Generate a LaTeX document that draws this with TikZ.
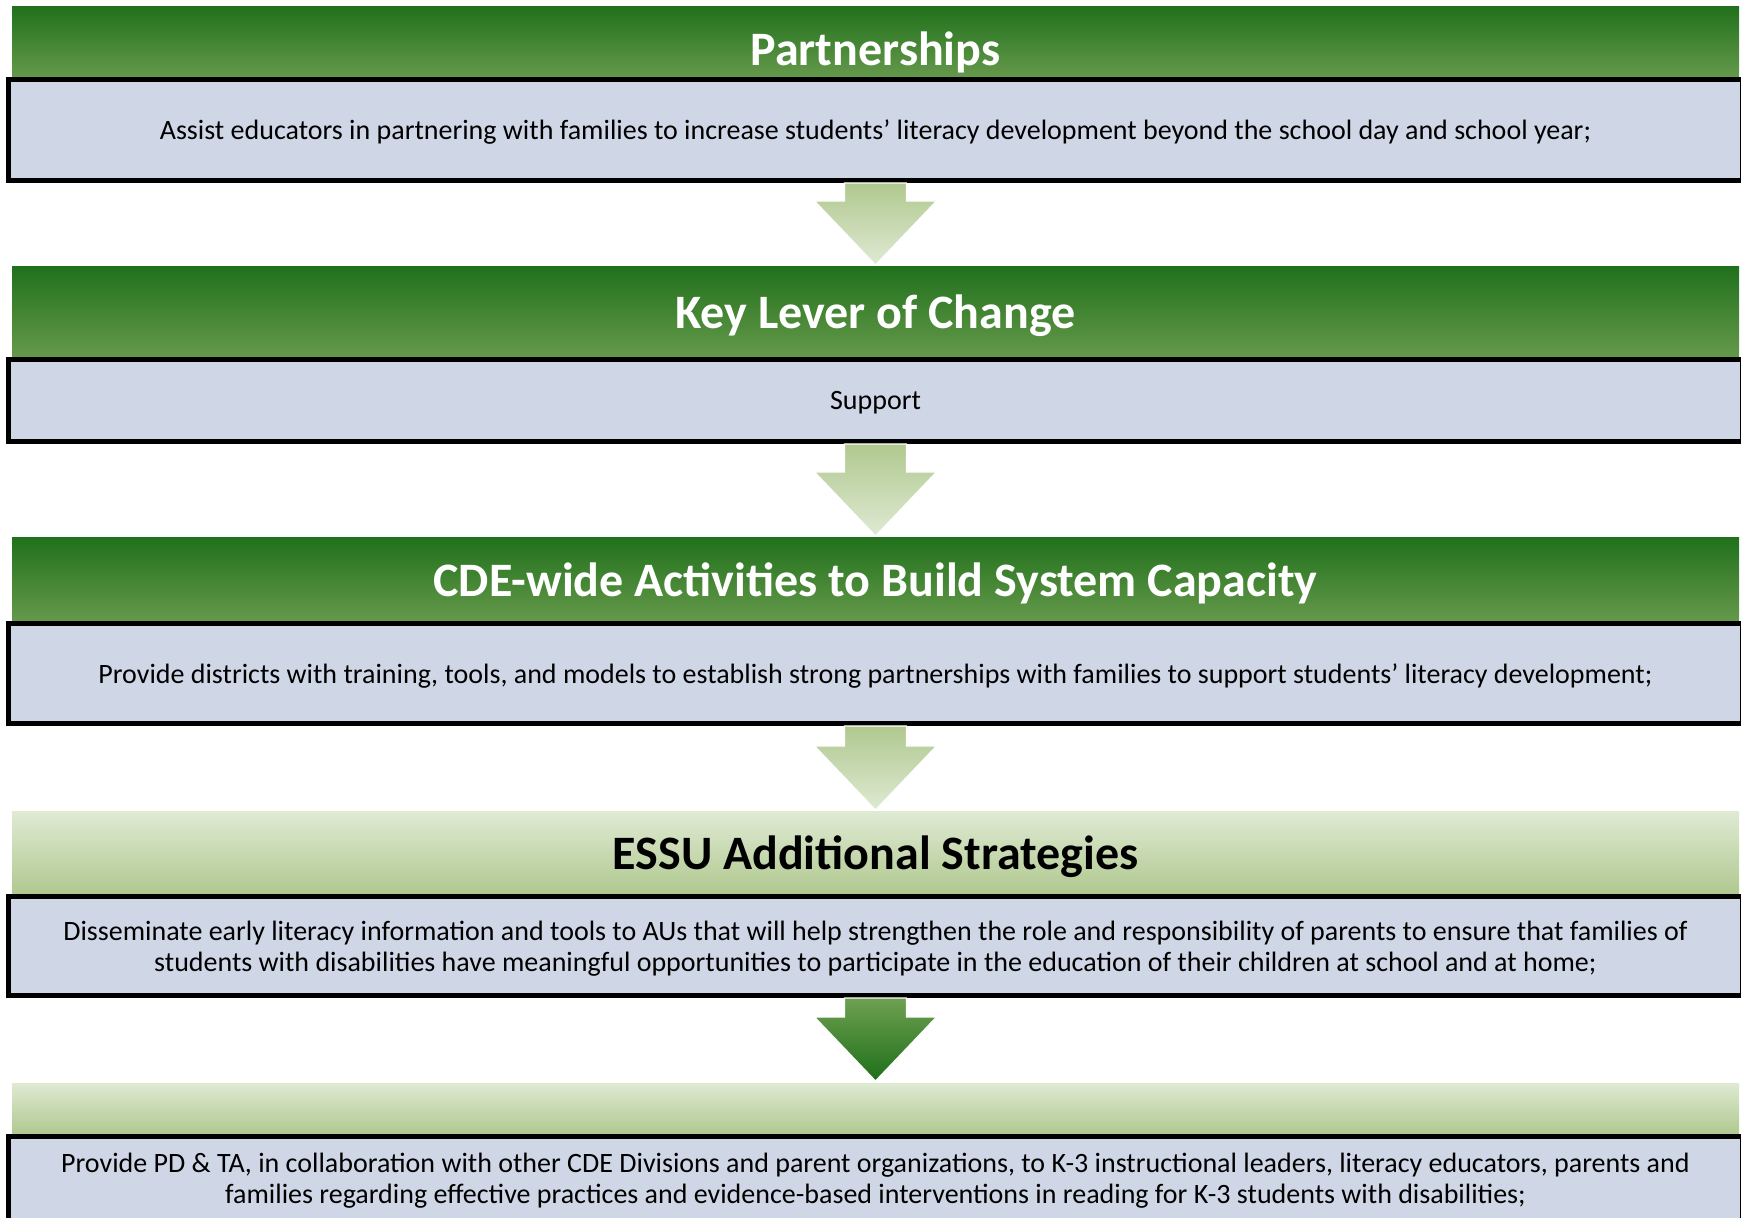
\documentclass[tikz,border=0pt]{standalone}
\usepackage{fontspec}
\setmainfont{Carlito}
\usepackage{tikz}
\usetikzlibrary{positioning,calc}

\definecolor{hdrtop}{HTML}{21711C}
\definecolor{hdrbot}{HTML}{65994B}
\definecolor{lighttop}{HTML}{DFEAD3}
\definecolor{lightbot}{HTML}{B0C88F}
\definecolor{boxfill}{HTML}{CFD7E7}
\definecolor{darktip}{HTML}{1E6F1A}
\definecolor{darktop}{HTML}{6EA050}

% block arrow from a text box down to the next header
\newcommand{\flowarrow}[4]{%
  \shade[top color=#3,bottom color=#4,draw=white,line width=0.6pt]
    ($(#1.south)+(-15.5pt,0)$) -- ($(#2.north)+(-15.5pt,33pt)$)
    -- ($(#2.north)+(-30.5pt,33pt)$) -- ($(#2.north)+(0,1pt)$)
    -- ($(#2.north)+(30.5pt,33pt)$) -- ($(#2.north)+(15.5pt,33pt)$)
    -- ($(#1.south)+(15.5pt,0)$) -- cycle;}

\begin{document}
\begin{tikzpicture}[x=1pt,y=1pt,
    hdr/.style={minimum width=863.5pt,inner sep=0pt,outer sep=0pt,text depth=0pt,top color=hdrtop,bottom color=hdrbot,text=white,font=\fontsize{24}{28}\selectfont\bfseries},
    hdrlight/.style={hdr,top color=lighttop,bottom color=lightbot,text=black},
    txtbox/.style={draw,line width=2.5pt,fill=boxfill,minimum width=867pt,align=center,inner sep=0pt,text depth=0pt,font=\fontsize{14}{15.5}\selectfont}]
  \useasboundingbox (0,0) rectangle (870.5,-609);
  \node[hdr,minimum height=35pt,text height=23.5pt,anchor=north west] (h1) at (6,-3.5) {Partnerships};
  \node[txtbox,minimum height=50.5pt,below=0pt of h1] (b1) {Assist educators in partnering with families to increase students’ literacy development beyond the school day and school year;};
  \node[hdr,minimum height=45pt,below=42pt of b1] (h2) {Key Lever of Change};
  \node[txtbox,minimum height=41pt,below=0pt of h2] (b2) {Support};
  \node[hdr,minimum height=41.5pt,below=47pt of b2] (h3) {CDE-wide Activities to Build System Capacity};
  \node[txtbox,minimum height=50pt,below=0pt of h3] (b3) {Provide districts with training, tools, and models to establish strong partnerships with families to support students’ literacy development;};
  \node[hdrlight,minimum height=41pt,below=43pt of b3] (h4) {ESSU Additional Strategies};
  \node[txtbox,minimum height=49.5pt,below=0pt of h4] (b4) {Disseminate early literacy information and tools to AUs that will help strengthen the role and responsibility of parents to ensure that families of\\students with disabilities have meaningful opportunities to participate in the education of their children at school and at home;};
  \node[hdrlight,minimum height=25.5pt,below=42.5pt of b4] (h5) {};
  \node[txtbox,minimum height=60pt,below=0pt of h5,text depth=18.5pt] (b5) {Provide PD \& TA, in collaboration with other CDE Divisions and parent organizations, to K-3 instructional leaders, literacy educators, parents and\\families regarding effective practices and evidence-based interventions in reading for K-3 students with disabilities;};
  \flowarrow{b1}{h2}{lightbot}{lighttop}
  \flowarrow{b2}{h3}{lightbot}{lighttop}
  \flowarrow{b3}{h4}{lightbot}{lighttop}
  \flowarrow{b4}{h5}{darktop}{darktip}
\end{tikzpicture}
\end{document}
